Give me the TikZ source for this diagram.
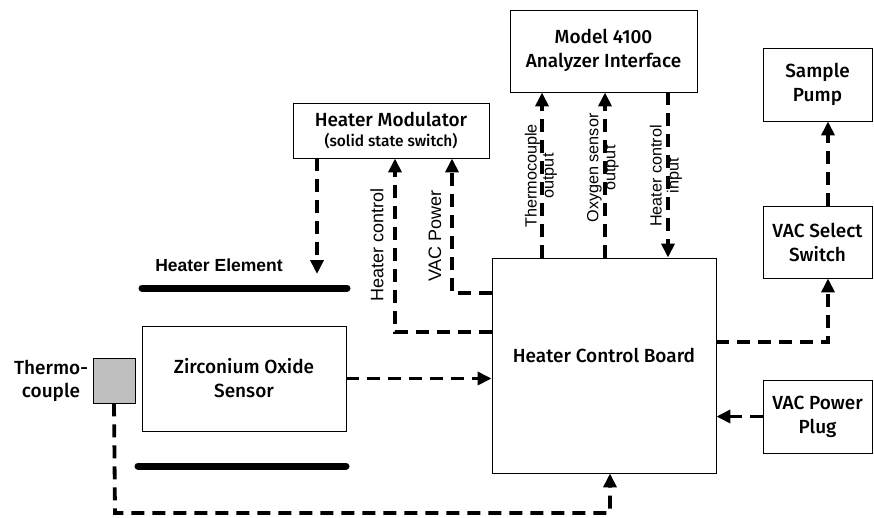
\documentclass[tikz,border=0pt]{standalone}
\usepackage{fontspec}
\setmainfont{Liberation Sans}
\newfontfamily\din{Fira Sans Medium}
\usetikzlibrary{arrows.meta}
\begin{document}
\begin{tikzpicture}[x=1pt,y=-1pt,
  box/.style={draw,line width=0.9pt,align=center,inner sep=0pt,
    font=\din\fontsize{19}{24}\selectfont},
  conn/.style={line width=3.8pt,dash pattern=on 13pt off 8pt,
    -{Triangle[width=13pt,length=14pt]}},
  heat/.style={line width=7pt,line cap=round},
  vlab/.style={rotate=90,align=center,font=\fontsize{18}{19}\selectfont},
  vlab2/.style={rotate=90,align=center,font=\fontsize{16.2}{17}\selectfont}]
\useasboundingbox (0,0) rectangle (874,517);
% boxes
\node[box,minimum width=187pt,minimum height=82pt] (model) at (603.5,51) {\raisebox{-2pt}{\begin{tabular}{@{}c@{}}Model 4100\\Analyzer Interface\end{tabular}}};
\node[box,minimum width=109pt,minimum height=73pt] (pump) at (817.5,84.5) {Sample\\Pump};
\node[box,minimum width=109pt,minimum height=72pt] (vsel) at (817.5,242) {VAC Select\\Switch};
\node[box,minimum width=109pt,minimum height=73pt] (vplug) at (817.5,416.5) {VAC Power\\Plug};
\node[box,minimum width=224pt,minimum height=215pt] (hcb) at (604,365.5) {};
\node[font=\din\fontsize{19}{24}\selectfont] (hcblab) at (604,355) {Heater Control Board};
\node[box,minimum width=196pt,minimum height=55pt] (hmod) at (391,130.5) {Heater Modulator\\[-4pt]{\fontsize{15.5}{18}\selectfont(solid state switch)}};
\node[box,minimum width=204pt,minimum height=105pt] (zro) at (244,378.5) {Zirconium Oxide\\Sensor};
\node[draw,line width=0.9pt,fill=black!25,minimum width=42pt,minimum height=45pt,inner sep=0pt] (tc) at (114,380.5) {};
% labels
\node[font=\din\fontsize{19}{23}\selectfont,align=center] (tclab) at (51,381) {Thermo-\\couple};
\node[font=\bfseries\fontsize{17.5}{20}\selectfont] (helab) at (219,265) {Heater Element};
% heater element lines
\coordinate (h1a) at (142,288); \coordinate (h1b) at (347,288);
\coordinate (h2a) at (138,466); \coordinate (h2b) at (346,466);
\draw[heat] (h1a) -- (h1b);
\draw[heat] (h2a) -- (h2b);
% connectors
\coordinate (hmodarrow) at (317,274);
\draw[conn] (317,0 |- hmod.south) -- (hmodarrow);
\draw[conn] (hcb.west |- 0,332) -- (395,332) -- (395,0 |- hmod.south);
\draw[conn] (hcb.west |- 0,293) -- (452,293) -- (452,0 |- hmod.south);
\draw[conn] (542,0 |- hcb.north) -- (542,0 |- model.south);
\draw[conn] (605,0 |- hcb.north) -- (605,0 |- model.south);
\draw[conn] (668,0 |- model.south) -- (668,0 |- hcb.north);
\draw[conn] (zro.east) -- (hcb.west |- zro.east);
\draw[conn] (tc.south) -- (115,513) -- (610,513) -- (610,0 |- hcb.south);
\draw[conn] (hcb.east |- 0,342) -- (828,342) -- (828,0 |- vsel.south);
\draw[conn] (828,0 |- vsel.north) -- (828,0 |- pump.south);
\draw[conn] (vplug.west) -- (hcb.east |- vplug.west);
% vertical labels
\node[vlab] (lhc) at (377,245) {Heater control};
\node[vlab] (lvac) at (435,236) {VAC Power};
\node[vlab2] (ltco) at (541,176) {Thermocouple\\output};
\node[vlab2] (loso) at (603,168) {Oxygen sensor\\output};
\node[vlab2] (lhci) at (666,176) {Heater control\\input};
\end{tikzpicture}
\end{document}
